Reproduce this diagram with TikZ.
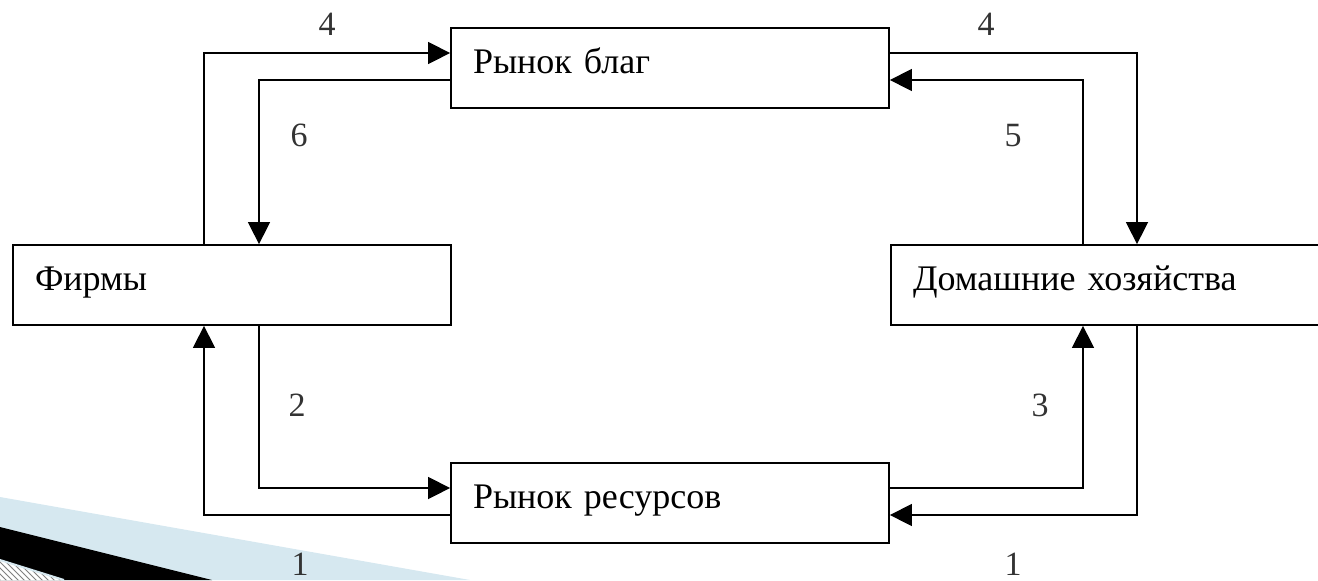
\documentclass[tikz,border=0pt]{standalone}
\usepackage{fontspec}
\setmainfont{Liberation Serif}
\usetikzlibrary{arrows.meta,patterns}
\definecolor{swooshblue}{RGB}{214,232,240}
\begin{document}
\begin{tikzpicture}[x=0.5pt,y=-0.5pt,
  box/.style={draw, line width=0.9pt, rectangle, inner xsep=11pt, inner ysep=0pt,
    text width=197pt, align=left, minimum height=40pt, text height=12.5pt,
    text depth=7.5pt, font=\fontsize{18}{20}\selectfont, fill=white},
  flow/.style={line width=0.75pt, -{Triangle[length=11pt,width=11pt]}},
  num/.style={font=\fontsize{17}{19}\selectfont, text=black!80, inner sep=0pt}]
\useasboundingbox (0,0) rectangle (1318,580);
% corner decoration
\fill[swooshblue] (0,497) -- (470,580) -- (0,580) -- cycle;
\fill[black] (0,527) -- (212,580) -- (0,580) -- cycle;
\fill[white] (0,560) -- (64,580) -- (0,580) -- cycle;
\fill[pattern=north west lines, pattern color=gray] (0,560) -- (64,580) -- (0,580) -- cycle;
\draw[swooshblue, line width=1pt] (0,560) -- (64,580);
% boxes
\node[box] (goods) at (670,68) {Рынок благ};
\node[box] (firms) at (232,285) {Фирмы};
\node[box] (household) at (1110,285) {Домашние хозяйства};
\node[box] (resources) at (670,503) {Рынок ресурсов};
% bend points
\coordinate (p4L) at (204,53);
\coordinate (p6) at (259,80);
\coordinate (p4R) at (1137,53);
\coordinate (p5) at (1083,80);
\coordinate (p2) at (259,488);
\coordinate (p1L) at (204,515);
\coordinate (p3) at (1083,488);
\coordinate (p1R) at (1137,515);
% connectors
\draw[flow] (firms.north -| p4L) |- (goods.west |- p4L);
\draw[flow] (goods.west |- p6) -| (firms.north -| p6);
\draw[flow] (goods.east |- p4R) -| (household.north -| p4R);
\draw[flow] (household.north -| p5) |- (goods.east |- p5);
\draw[flow] (firms.south -| p2) |- (resources.west |- p2);
\draw[flow] (resources.west |- p1L) -| (firms.south -| p1L);
\draw[flow] (resources.east |- p3) -| (household.south -| p3);
\draw[flow] (household.south -| p1R) |- (resources.east |- p1R);
% labels
\node[num] (n4L) at (327,24) {4};
\node[num] (n6) at (299,135) {6};
\node[num] (n4R) at (986,24) {4};
\node[num] (n5) at (1013,136) {5};
\node[num] (n2) at (297,405) {2};
\node[num] (n3) at (1040,405) {3};
\node[num] (n1L) at (300,564) {1};
\node[num] (n1R) at (1013,564) {1};
\end{tikzpicture}
\end{document}
